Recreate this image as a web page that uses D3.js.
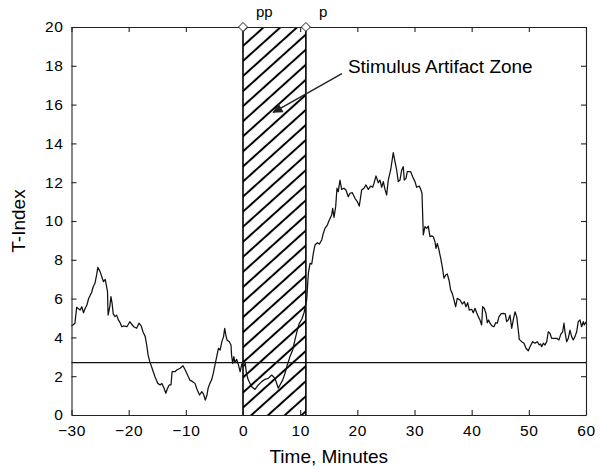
<!DOCTYPE html>
<html>
<head>
<meta charset="utf-8">
<script src="https://cdn.jsdelivr.net/npm/d3@7"></script>
<style>
    body { margin: 0; background: #fff; }
    text { font-family: "Liberation Sans", Arial, sans-serif; fill: #000; }
</style>
</head>
<body>
<div id="chart"></div>
<script>
// Time axis (minutes) of the T-Index trace
var times = [
    -30.0, -29.7, -29.4, -29.1, -28.9, -28.5, -28.2, -27.9, -27.6, -27.3,
    -27.0, -26.7, -26.5, -26.2, -25.9, -25.6, -25.4, -25.0, -24.7, -24.4,
    -24.1, -23.8, -23.7, -23.6, -23.3, -23.1, -22.9, -22.7, -22.4, -22.1,
    -21.8, -21.5, -21.2, -20.9, -20.3, -19.8, -19.5, -19.1, -18.6, -18.2,
    -17.8, -17.5, -17.1, -16.8, -16.6, -16.3, -15.8, -15.4, -14.9, -14.5,
    -14.2, -13.8, -13.5, -13.2, -12.9, -12.6, -12.4, -11.9, -11.6, -11.0,
    -10.5, -10.1, -9.7, -9.3, -8.8, -8.4, -8.0, -7.6, -7.2, -6.9,
    -6.6, -6.3, -6.1, -5.8, -5.5, -5.2, -4.9, -4.6, -4.3, -4.0,
    -3.7, -3.4, -3.2, -3.0, -2.8, -2.4, -2.1, -2.0, -1.8, -1.6,
    -1.4, -1.1, -0.8, -0.5, -0.2, 0.1, 0.4, 0.6, 0.93, 1.52,
    2.10, 2.67, 3.27, 3.85, 4.42, 5.02, 5.60, 6.17, 6.47, 6.94,
    7.35, 7.75, 8.22, 8.69, 9.09, 9.50, 9.85, 10.3, 10.7, 11.14,
    11.43, 11.72, 12.02, 12.30, 12.59, 13.0, 13.35, 13.77, 14.05, 14.34,
    14.75, 15.1, 15.51, 15.69, 15.92, 16.21, 16.44, 16.67, 16.96, 17.26,
    17.66, 18.01, 18.42, 18.71, 19.12, 19.59, 19.99, 20.34, 20.76, 21.16,
    21.51, 21.92, 22.33, 22.68, 22.91, 23.26, 23.67, 23.96, 24.26, 24.54,
    24.84, 25.13, 25.41, 25.83, 26.29, 26.59, 26.88, 27.16, 27.46, 27.76,
    28.04, 28.21, 28.51, 28.74, 29.04, 29.33, 29.68, 30.08, 30.38, 30.84,
    31.13, 31.31, 31.54, 31.83, 32.13, 32.41, 32.71, 33.0, 33.29, 33.58,
    33.76, 33.99, 34.28, 34.58, 34.86, 35.16, 35.45, 35.73, 36.03, 36.33,
    36.61, 36.91, 37.2, 37.48, 37.96, 38.36, 38.71, 39.01, 39.3, 39.58,
    40.0, 40.28, 40.58, 40.88, 41.16, 41.45, 41.75, 41.92, 42.2, 42.5,
    42.73, 42.97, 43.2, 43.55, 43.9, 44.2, 44.48, 44.78, 45.13, 45.53,
    45.88, 46.12, 46.41, 46.7, 47.0, 47.28, 47.58, 47.88, 48.15, 48.33,
    48.75, 49.15, 49.5, 49.9, 50.2, 50.67, 51.07, 51.47, 51.83, 52.07,
    52.25, 52.53, 52.82, 53.13, 53.4, 53.7, 54.0, 54.4, 54.87, 55.27,
    55.62, 55.92, 56.15, 56.32, 56.62, 56.9, 57.2, 57.49, 57.77, 58.07,
    58.37, 58.64, 58.94, 59.24, 59.52, 59.7, 60.0
];

// T-Index values
var tIndex = [
    4.59, 4.65, 4.73, 5.55, 5.50, 5.41, 5.58, 5.27, 5.50, 5.67,
    6.01, 6.19, 6.30, 6.61, 6.79, 7.22, 7.61, 7.39, 7.13, 6.87,
    6.99, 6.53, 6.36, 5.15, 5.58, 6.10, 5.76, 5.21, 5.07, 5.15,
    4.90, 4.76, 4.55, 4.59, 4.55, 4.81, 4.69, 4.55, 4.47, 4.73,
    4.59, 4.29, 4.04, 3.52, 3.09, 2.75, 2.32, 1.97, 1.63, 1.55,
    1.63, 1.38, 1.12, 1.38, 1.55, 1.55, 2.23, 2.23, 2.32, 2.41,
    2.54, 2.32, 2.06, 1.80, 1.72, 1.63, 1.29, 1.03, 1.20, 1.08,
    0.77, 1.03, 1.38, 1.63, 1.80, 2.15, 2.58, 3.01, 3.44, 3.35,
    3.78, 4.04, 4.47, 4.12, 3.87, 3.78, 3.61, 3.09, 2.66, 3.01,
    2.70, 2.87, 2.58, 2.23, 2.63, 2.49, 2.66, 2.15, 1.80, 1.46,
    1.32, 1.55, 1.72, 1.84, 1.89, 2.06, 1.89, 1.38, 1.55, 1.80,
    2.15, 2.58, 3.01, 3.35, 3.87, 4.38, 4.72, 4.95, 5.30, 5.93,
    7.30, 7.82, 7.78, 8.33, 8.76, 8.88, 8.81, 9.02, 9.37, 9.62,
    9.79, 10.05, 10.31, 10.65, 10.19, 10.74, 11.69, 11.51, 12.11, 11.63,
    11.69, 11.60, 11.25, 11.43, 11.46, 11.17, 11.00, 10.77, 11.60, 11.69,
    11.86, 11.63, 11.80, 11.74, 11.94, 12.32, 11.97, 12.11, 11.74, 12.03,
    11.63, 11.34, 12.11, 12.63, 13.52, 13.06, 12.63, 12.03, 12.11, 12.63,
    12.80, 12.11, 12.20, 12.54, 12.54, 12.54, 12.28, 12.03, 11.74, 11.80,
    11.60, 11.43, 9.28, 9.71, 9.62, 9.74, 9.19, 9.23, 9.19, 8.93,
    8.59, 8.85, 8.51, 8.08, 7.64, 7.05, 7.22, 7.27, 6.96, 6.44,
    6.27, 5.93, 5.58, 6.01, 5.93, 5.72, 5.84, 5.58, 5.79, 5.41,
    5.45, 5.27, 5.50, 5.27, 5.07, 4.90, 4.64, 5.58, 5.50, 5.24,
    4.76, 4.90, 4.73, 4.59, 4.55, 4.76, 4.73, 5.07, 5.21, 5.24,
    5.21, 4.81, 4.90, 5.15, 4.47, 4.90, 5.32, 5.07, 4.38, 3.90,
    3.78, 3.70, 3.44, 3.31, 3.52, 3.78, 3.70, 3.78, 3.61, 3.66,
    3.52, 3.70, 3.61, 3.78, 4.29, 4.21, 3.95, 3.95, 3.95, 3.87,
    4.18, 4.29, 4.73, 4.29, 3.78, 3.95, 4.38, 4.04, 3.87, 4.04,
    4.29, 4.81, 4.90, 4.55, 4.81, 4.64, 4.80
];

var xTicks = [-30, -20, -10, 0, 10, 20, 30, 40, 50, 60];
var yTicks = [0, 2, 4, 6, 8, 10, 12, 14, 16, 18, 20];

var threshold = 2.7;                 // horizontal reference level
var zone = [0, 11];                  // stimulus artifact zone (minutes)
var zoneMarks = [{ t: 0, label: "pp" }, { t: 11, label: "p" }];
var annotation = "Stimulus Artifact Zone";
var arrowFrom = [17.3, 17.6];        // [minutes, T-Index]
var arrowTo = [5.3, 15.6];

function init() {
    var w = 600, h = 470;
    var margin = { top: 27, right: 14, bottom: 55, left: 71.5 };
    var innerWidth = w - margin.left - margin.right;
    var innerHeight = h - margin.top - margin.bottom;

    var dataset = times.map(function (t, i) { return { t: t, v: tIndex[i] }; });

    var xScale = d3.scaleLinear().domain([-30, 60]).range([0, innerWidth]);
    var yScale = d3.scaleLinear().domain([0, 20]).range([innerHeight, 0]);

    var svg = d3.select("#chart").append("svg")
        .attr("width", w)
        .attr("height", h);

    // hatch pattern for the artifact zone
    var defs = svg.append("defs");
    var pat = defs.append("pattern")
        .attr("id", "hatch")
        .attr("patternUnits", "userSpaceOnUse")
        .attr("width", 10)
        .attr("height", 11.2)
        .attr("patternTransform", "rotate(-42)");
    pat.append("line")
        .attr("x1", -1).attr("x2", 11)
        .attr("y1", 5.6).attr("y2", 5.6)
        .attr("stroke", "#000")
        .attr("stroke-width", 2);

    defs.append("marker")
        .attr("id", "arrowhead")
        .attr("viewBox", "0 0 10 10")
        .attr("refX", 9).attr("refY", 5)
        .attr("markerWidth", 15).attr("markerHeight", 10)
        .attr("markerUnits", "userSpaceOnUse")
        .attr("orient", "auto")
        .append("path")
        .attr("d", "M0,0 L10,5 L0,10 Z")
        .attr("fill", "#222");

    var g = svg.append("g")
        .attr("transform", "translate(" + margin.left + "," + margin.top + ")");

    // Artifact zone
    g.append("rect")
        .attr("x", xScale(zone[0]))
        .attr("y", 0)
        .attr("width", xScale(zone[1]) - xScale(zone[0]))
        .attr("height", innerHeight)
        .attr("fill", "url(#hatch)")
        .attr("stroke", "none");

    g.selectAll(".zone-edge")
        .data(zone)
        .enter().append("line")
        .attr("class", "zone-edge")
        .attr("x1", d => xScale(d)).attr("x2", d => xScale(d))
        .attr("y1", 0).attr("y2", innerHeight)
        .attr("stroke", "#000")
        .attr("stroke-width", 1.6);

    // Threshold line
    g.append("line")
        .attr("x1", 0).attr("x2", innerWidth)
        .attr("y1", yScale(threshold)).attr("y2", yScale(threshold))
        .attr("stroke", "#111")
        .attr("stroke-width", 1.3);

    // Trace
    var line = d3.line()
        .x(d => xScale(d.t))
        .y(d => yScale(d.v));

    g.append("path")
        .datum(dataset)
        .attr("d", line)
        .attr("fill", "none")
        .attr("stroke", "#111")
        .attr("stroke-width", 1.25)
        .attr("stroke-linejoin", "round");

    // Axes (box with inward ticks)
    var tickStyle = function (sel) {
        sel.selectAll("path, line").attr("stroke", "#222").attr("stroke-width", 1.1);
        sel.selectAll("text")
            .style("font-size", "15.5px")
            .style("letter-spacing", "0.6px")
            .attr("fill", "#000");
    };

    g.append("g")
        .attr("transform", "translate(0," + innerHeight + ")")
        .call(d3.axisBottom(xScale).tickValues(xTicks).tickSizeInner(-5).tickSizeOuter(0).tickPadding(10))
        .call(tickStyle);

    g.append("g")
        .call(d3.axisTop(xScale).tickValues(xTicks).tickSizeInner(-5).tickSizeOuter(0).tickFormat(""))
        .call(tickStyle);

    g.append("g")
        .call(d3.axisLeft(yScale).tickValues(yTicks).tickSizeInner(-5).tickSizeOuter(0).tickPadding(8))
        .call(tickStyle);

    g.append("g")
        .attr("transform", "translate(" + innerWidth + ",0)")
        .call(d3.axisRight(yScale).tickValues(yTicks).tickSizeInner(-5).tickSizeOuter(0).tickFormat(""))
        .call(tickStyle);

    g.selectAll(".domain").attr("fill", "none");

    // Zone markers on the top edge
    g.selectAll(".mark")
        .data(zoneMarks)
        .enter().append("path")
        .attr("class", "mark")
        .attr("transform", d => "translate(" + xScale(d.t) + "," + yScale(20) + ")")
        .attr("d", "M0,-4.5 L4.5,0 L0,4.5 L-4.5,0 Z")
        .attr("fill", "#fff")
        .attr("stroke", "#222")
        .attr("stroke-width", 1);

    g.selectAll(".mark-label")
        .data(zoneMarks)
        .enter().append("text")
        .attr("class", "mark-label")
        .attr("x", d => xScale(d.t) + 13)
        .attr("y", -10)
        .attr("text-anchor", "start")
        .style("font-size", "15px")
        .text(d => d.label);

    // Annotation with arrow
    g.append("line")
        .attr("x1", xScale(arrowFrom[0])).attr("y1", yScale(arrowFrom[1]))
        .attr("x2", xScale(arrowTo[0])).attr("y2", yScale(arrowTo[1]))
        .attr("stroke", "#222")
        .attr("stroke-width", 1.4)
        .attr("marker-end", "url(#arrowhead)");

    g.append("text")
        .attr("x", xScale(arrowFrom[0]) + 6)
        .attr("y", yScale(arrowFrom[1]) - 1)
        .style("font-size", "19px")
        .text(annotation);

    // Axis titles
    g.append("text")
        .attr("x", innerWidth / 2)
        .attr("y", innerHeight + 48)
        .attr("text-anchor", "middle")
        .style("font-size", "19px")
        .text("Time, Minutes");

    g.append("text")
        .attr("transform", "rotate(-90)")
        .attr("x", -innerHeight / 2)
        .attr("y", -margin.left + 25)
        .attr("text-anchor", "middle")
        .style("font-size", "19px")
        .text("T-Index");
}

window.onload = init;
</script>
</body>
</html>
